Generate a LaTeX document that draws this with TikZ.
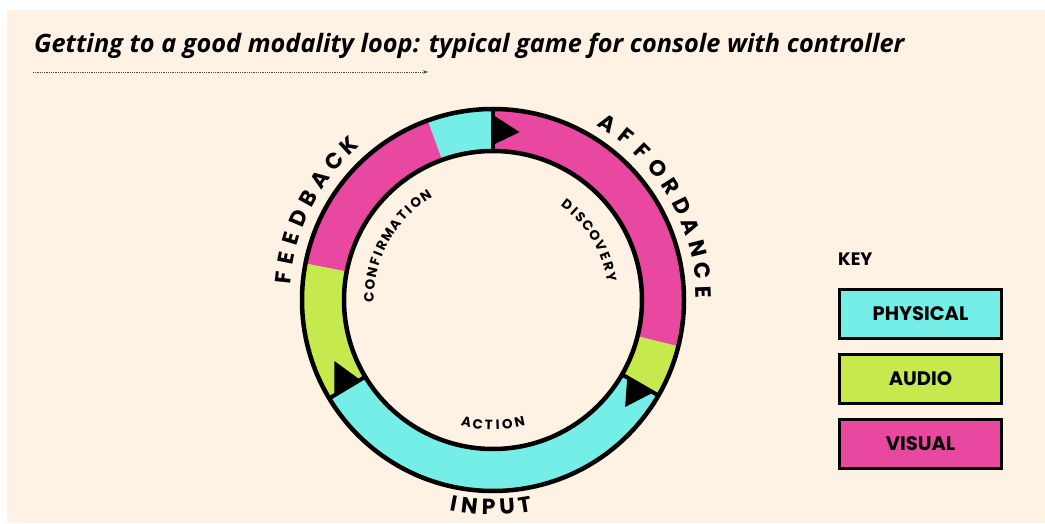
\documentclass[tikz,border=0pt]{standalone}
\usepackage{fontspec}
\usepackage{tikz}
\usetikzlibrary{arrows.meta,positioning}
\setmainfont{Open Sans}
\newfontfamily\keyfont{Poppins}

\definecolor{paper}{RGB}{253,242,228}
\definecolor{physcyan}{RGB}{118,238,232}
\definecolor{audiogreen}{RGB}{198,234,78}
\definecolor{visualpink}{RGB}{232,72,160}

\tikzset{
  keybox/.style={draw=black, line width=3pt, minimum width=162pt, minimum height=49pt,
    inner sep=0pt, font=\keyfont\bfseries\fontsize{19.5}{20}\selectfont},
  biglabel/.style={inner sep=0pt, font=\keyfont\bfseries\fontsize{22}{22}\selectfont},
  smalllabel/.style={inner sep=0pt, font=\keyfont\bfseries\fontsize{13.5}{14}\selectfont},
}

\begin{document}
\begin{tikzpicture}[x=1pt, y=1pt]
  \useasboundingbox (0,0) rectangle (1045,523);
  \fill[white] (0,0) rectangle (1045,523);
  \fill[paper] (7,0) rectangle (1045,513);

  % title
  \node[anchor=base west, inner sep=0pt, font=\bfseries\itshape\fontsize{25.3}{30}\selectfont] (title) at (34,470)
    {Getting to a good modality loop: typical game for console with controller};
  \coordinate (rulestart) at (33,451);
  \coordinate (ruleend) at (428,451);
  \draw[densely dotted, gray!60!black, line width=0.8pt, -{Stealth[length=5pt]}] (rulestart) -- (ruleend);

  % the loop
  \begin{scope}[shift={(493,223)}]
    \fill[physcyan] (90:191) arc[start angle=90, end angle=110, radius=191pt] -- (110:149) arc[start angle=110, end angle=90, radius=149pt] -- cycle;
    \fill[visualpink] (110:191) arc[start angle=110, end angle=169, radius=191pt] -- (169:149) arc[start angle=169, end angle=110, radius=149pt] -- cycle;
    \fill[audiogreen] (169:191) arc[start angle=169, end angle=211, radius=191pt] -- (211:149) arc[start angle=211, end angle=169, radius=149pt] -- cycle;
    \fill[physcyan] (211:191) arc[start angle=211, end angle=330, radius=191pt] -- (330:149) arc[start angle=330, end angle=211, radius=149pt] -- cycle;
    \fill[audiogreen] (330:191) arc[start angle=330, end angle=346, radius=191pt] -- (346:149) arc[start angle=346, end angle=330, radius=149pt] -- cycle;
    \fill[visualpink] (346:191) arc[start angle=346, end angle=450, radius=191pt] -- (450:149) arc[start angle=450, end angle=346, radius=149pt] -- cycle;

    \draw[line width=4.5pt] (0,0) circle[radius=191pt];
    \draw[line width=4.5pt] (0,0) circle[radius=149pt];

    % joints and arrow tips
    \draw[line width=4pt] (90:149) -- (90:191);
    \draw[line width=4pt] (330:149) -- (330:191);
    \draw[line width=4pt] (211:149) -- (211:191);
    \fill (90:155) -- (81:170) -- (90:185) -- cycle;
    \fill (330:155) -- (321:170) -- (330:185) -- cycle;
    \fill (211:155) -- (201:170) -- (211:185) -- cycle;

    % outer labels
    \foreach \ch/\ang [count=\i] in {F/174, E/168.6, E/163.1, D/157.2, B/151.1, A/145, C/139, K/133}
      \node[biglabel, rotate=\ang-90] (feedback-\i) at (\ang:211) {\ch};
    \foreach \ch/\ang [count=\i] in {A/57, F/50.9, F/44.8, O/38.7, R/32.6, D/26.4, A/20.3, N/14.2, C/8.1, E/2}
      \node[biglabel, rotate=\ang-90] (affordance-\i) at (\ang:211) {\ch};
    \foreach \ch/\ang [count=\i] in {I/259.2, N/263.5, P/268.8, U/273.9, T/278.8}
      \node[biglabel, rotate=\ang+90] (input-\i) at (\ang:207) {\ch};

    % inner labels
    \foreach \ch/\ang [count=\i] in {C/178.6, O/173, N/167.3, F/162.1, I/158.2, R/154, M/148.2, A/142.3, T/137.1, I/133, O/128.5, N/122.8}
      \node[smalllabel, rotate=\ang-90] (confirmation-\i) at (\ang:124) {\ch};
    \foreach \ch/\ang [count=\i] in {D/52, I/47.5, S/43.4, C/38.2, O/32.4, V/26.7, E/21.5, R/16.3, Y/11.1}
      \node[smalllabel, rotate=\ang-90] (discovery-\i) at (\ang:120.5) {\ch};
    \foreach \ch/\ang [count=\i] in {A/257.7, C/263, T/268.1, I/272.1, O/276.6, N/282.3}
      \node[smalllabel, rotate=\ang+90] (action-\i) at (\ang:125) {\ch};
  \end{scope}

  % key
  \node[anchor=west, inner sep=0pt, font=\keyfont\bfseries\fontsize{18}{20}\selectfont] (keyhead) at (838,264) {KEY};
  \node[keybox, fill=physcyan] (keyphys) at (920.5,209) {PHYSICAL};
  \node[keybox, fill=audiogreen, below=13pt of keyphys] (keyaudio) {AUDIO};
  \node[keybox, fill=visualpink, below=13pt of keyaudio] (keyvis) {VISUAL};
\end{tikzpicture}
\end{document}
